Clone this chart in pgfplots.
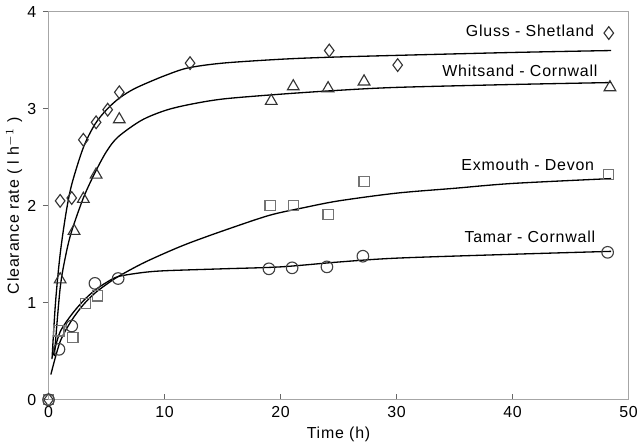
\documentclass[border=0pt]{standalone}
\usepackage{pgfplots}
\pgfplotsset{compat=1.18}
\usepackage{fontspec}
\setmainfont{Liberation Sans}[LetterSpace=5]
\begin{document}
\begin{tikzpicture}
\begin{axis}[
  scale only axis,
  width=10.88cm, height=7.28cm,
  xmin=0, xmax=50, ymin=0, ymax=4,
  xtick={0,10,...,50}, ytick={0,1,2,3,4},
  tick pos=left,
  xtick align=inside, ytick align=outside,
  major tick length=3pt,
  axis line style={gray!70, line width=0.6pt},
  tick style={gray!80!black, line width=0.6pt},
  font=\fontsize{8.5}{10}\selectfont,
  /pgf/number format/assume math mode=true,
  xlabel={Time (h)},
  ylabel={Clearance rate ( l h$^{-1}$ )},
  xlabel style={yshift=2pt},
  ylabel style={yshift=-4pt},
  clip=false,
]
% Gluss - Shetland
\addplot[only marks, mark=diamond, mark size=3.4pt, black!80, line width=0.6pt] coordinates {
 (0,0) (1,2.05) (2,2.08) (3,2.68) (4.1,2.86) (5.1,2.99) (6.1,3.17) (12.2,3.47) (24.2,3.60) (30.1,3.45) (48.3,3.78)};
\addplot[black, line width=0.7pt, smooth] coordinates {
 (0.3,0.42) (0.6,1.0) (1,1.5) (1.5,1.92) (2,2.22) (3,2.6) (4,2.84) (5,2.99) (6,3.1) (7,3.18) (8,3.24) (10,3.34) (12,3.42) (15,3.47) (20,3.51) (24,3.53) (30,3.55) (40,3.58) (48.5,3.60)};
% Whitsand - Cornwall
\addplot[only marks, mark=triangle, mark size=3.6pt, black!80, line width=0.6pt] coordinates {
 (1,1.24) (2.2,1.74) (3,2.07) (4.1,2.32) (6.1,2.89) (19.2,3.08) (21.1,3.23) (24.1,3.21) (27.2,3.28) (48.4,3.22)};
\addplot[black, line width=0.7pt, smooth] coordinates {
 (0.5,0.45) (1,1.15) (1.5,1.5) (2,1.74) (3,2.08) (4,2.34) (5,2.56) (6,2.71) (8,2.88) (10,2.98) (12,3.04) (15,3.1) (20,3.15) (25,3.19) (30,3.22) (40,3.25) (48.5,3.27)};
% Exmouth - Devon
\addplot[only marks, mark=square, mark size=2.7pt, black!55, line width=0.6pt] coordinates {
 (0,0) (0.9,0.71) (2.1,0.64) (3.2,0.99) (4.2,1.07) (19.1,2.0) (21.1,2.0) (24.1,1.91) (27.2,2.25) (48.3,2.32)};
\addplot[black, line width=0.7pt, smooth] coordinates {
 (0.2,0.26) (1,0.6) (2,0.82) (3,0.98) (4,1.1) (5,1.19) (6,1.27) (8,1.4) (10,1.51) (12,1.61) (15,1.74) (19,1.9) (22,1.98) (25,2.05) (30,2.13) (35,2.18) (40,2.23) (48.5,2.28)};
% Tamar - Cornwall
\addplot[only marks, mark=o, mark size=3.1pt, black!75, line width=0.6pt] coordinates {
 (0,0) (0.9,0.52) (2,0.76) (4,1.2) (6,1.25) (19,1.35) (21,1.36) (24,1.37) (27.1,1.48) (48.2,1.52)};
\addplot[black, line width=0.7pt, smooth] coordinates {
 (0.4,0.46) (1,0.7) (2,0.88) (3,1.02) (4,1.13) (5,1.21) (6,1.27) (8,1.31) (10,1.33) (15,1.35) (20,1.37) (25,1.42) (30,1.46) (40,1.50) (48.5,1.53)};
\node[anchor=east] at (axis cs:47.6,3.80) {Gluss - Shetland};
\node[anchor=east] at (axis cs:47.9,3.39) {Whitsand - Cornwall};
\node[anchor=east] at (axis cs:47.6,2.42) {Exmouth - Devon};
\node[anchor=east] at (axis cs:47.7,1.68) {Tamar - Cornwall};
\end{axis}
\end{tikzpicture}
\end{document}
